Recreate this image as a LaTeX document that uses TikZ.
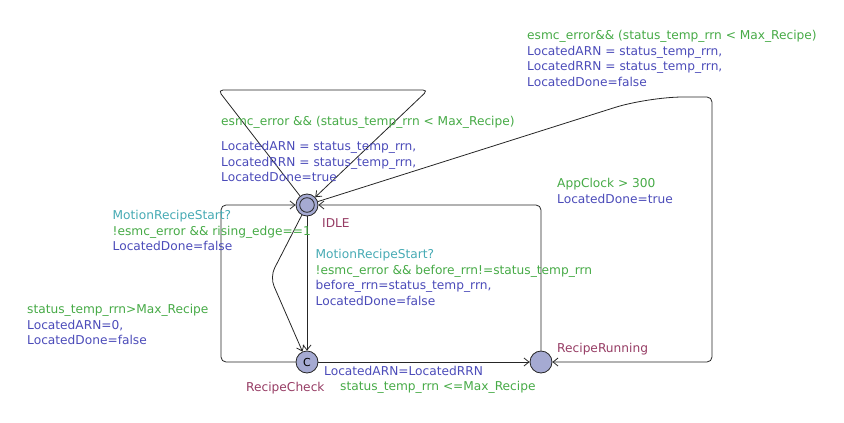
\documentclass[tikz,border=0pt]{standalone}
\usepackage{fontspec}
\newfontfamily\lblfont{DejaVu Sans}
\usetikzlibrary{arrows.meta}
\definecolor{grd}{RGB}{70,170,70}
\definecolor{asg}{RGB}{75,75,185}
\definecolor{syn}{RGB}{70,170,180}
\definecolor{lname}{RGB}{150,60,100}
\definecolor{locfill}{RGB}{165,170,210}
\tikzset{
  loc/.style={circle, draw=black!85, fill=locfill, line width=0.8pt, minimum size=22pt, inner sep=0pt},
  edge/.style={draw=black!85, line width=0.8pt, -{Straight Barb[length=5pt,width=8pt]}, rounded corners=5pt},
  lbl/.style={anchor=north west, inner sep=0pt, align=left, font=\lblfont\fontsize{12.2}{15.6}\selectfont},
}
\begin{document}
\begin{tikzpicture}[x=1pt,y=-1pt]
\useasboundingbox (0,0) rectangle (844,423);
% locations
\node[loc] (idle) at (307,205) {};
\draw[black!85, line width=0.8pt] (idle.center) circle[radius=7.3pt];
\node[loc, font=\lblfont\fontsize{11}{13}\selectfont] (rc) at (307,362) {C};
\node[loc] (rr) at (541,362) {};
% location names
\node[lbl, text=lname] (nidle) at (322,218) {IDLE};
\node[lbl, text=lname] (nrc) at (246,382) {RecipeCheck};
\node[lbl, text=lname] (nrr) at (557,343.5) {RecipeRunning};
% edges
\draw[edge] (idle) -- (218,90) -- (428,90) -- (idle);
\draw[edge] (idle) [rounded corners=35pt] -- (648,97) [rounded corners=5pt] -- (712,97) -- (712,362) -- (rr);
\draw[edge, rounded corners=10pt] (idle) -- (270,277) -- (rc);
\draw[edge] (idle) -- (rc);
\draw[edge] (rc) -- (rr);
\draw[edge] (rc) -- (221,362) -- (221,205) -- (idle);
\draw[edge] (rr) -- (541,205) -- (idle);
% edge labels
\node[lbl, text=grd] (g1) at (221,116) {esmc\_error \&\& (status\_temp\_rrn < Max\_Recipe)};
\node[lbl, text=asg] (a1) at (221,141) {LocatedARN = status\_temp\_rrn,\\LocatedRRN = status\_temp\_rrn,\\LocatedDone=true};
\node[lbl] (l2) at (527,30.2) {{\color{grd}esmc\_error\&\& (status\_temp\_rrn < Max\_Recipe)}\\{\color{asg}LocatedARN = status\_temp\_rrn,}\\{\color{asg}LocatedRRN = status\_temp\_rrn,}\\{\color{asg}LocatedDone=false}};
\node[lbl] (l3) at (112.5,210.2) {{\color{syn}MotionRecipeStart?}\\{\color{grd}!esmc\_error \&\& rising\_edge==1}\\{\color{asg}LocatedDone=false}};
\node[lbl] (l4) at (315.5,249.2) {{\color{syn}MotionRecipeStart?}\\{\color{grd}!esmc\_error \&\& before\_rrn!=status\_temp\_rrn}\\{\color{asg}before\_rrn=status\_temp\_rrn,}\\{\color{asg}LocatedDone=false}};
\node[lbl] (l6) at (27,304.2) {{\color{grd}status\_temp\_rrn>Max\_Recipe}\\{\color{asg}LocatedARN=0,}\\{\color{asg}LocatedDone=false}};
\node[lbl] (l7) at (557,178.5) {{\color{grd}AppClock > 300}\\{\color{asg}LocatedDone=true}};
\node[lbl, text=asg] (a5) at (324,366) {LocatedARN=LocatedRRN};
\node[lbl, text=grd] (g5) at (340,381) {status\_temp\_rrn <=Max\_Recipe};
\end{tikzpicture}
\end{document}
